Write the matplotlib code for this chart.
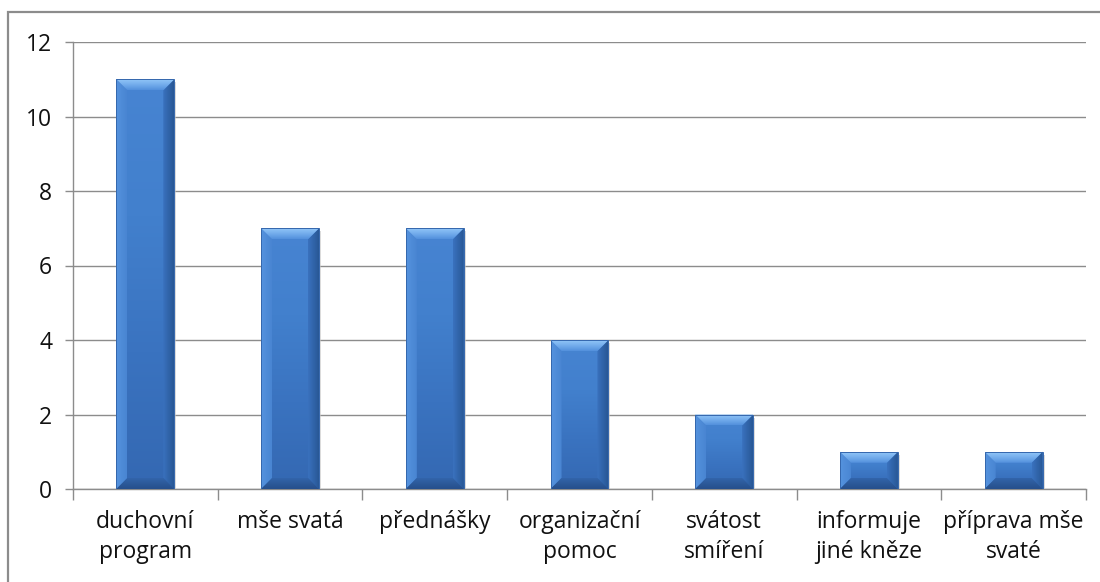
import matplotlib
matplotlib.use("Agg")
import matplotlib.pyplot as plt
import numpy as np
from matplotlib.patches import Polygon, Rectangle
from matplotlib.colors import LinearSegmentedColormap

categories = ["duchovní\nprogram", "mše svatá", "přednášky", "organizační\npomoc",
              "svátost\nsmíření", "informuje\njiné kněze", "příprava mše\nsvaté"]
values = [11, 7, 7, 4, 2, 1, 1]
yticks = [0, 2, 4, 6, 8, 10, 12]

plt.rcParams['font.family'] = ['Open Sans', 'DejaVu Sans']

W, H = 1100, 582
fig = plt.figure(figsize=(W / 100, H / 100), dpi=100)
fig.patch.set_facecolor('white')

# outer frame (only left and top visible in reference)
fig.add_artist(Rectangle((8 / W, -0.1), 1.2, 1 - 12 / H + 0.1, transform=fig.transFigure,
                         fill=False, edgecolor='#8c8c8c', linewidth=1.6))

ax = fig.add_axes([73 / W, 1 - 489 / H, (1086 - 73) / W, (489 - 42) / H])
x = np.arange(len(values))
ax.set_xlim(-0.5, len(values) - 0.5)
ax.set_ylim(0, 12)

for s in ['top', 'right']:
    ax.spines[s].set_visible(False)
for s in ['left', 'bottom']:
    ax.spines[s].set_color('#8c8c8c')
    ax.spines[s].set_linewidth(1.0)

ax.set_yticks(yticks)
ax.set_yticklabels([str(v) for v in yticks])
ax.yaxis.grid(True, color='#8c8c8c', linewidth=1.0)
ax.set_axisbelow(True)
ax.tick_params(axis='y', length=6, width=1, color='#8c8c8c', pad=9, labelsize=16.5, labelcolor='#111111')

ax.set_xticks(x)
ax.set_xticklabels(categories, linespacing=1.32)
ax.tick_params(axis='x', which='major', length=0, pad=15, labelsize=16.5, labelcolor='#111111')
ax.set_xticks(np.arange(-0.5, len(values) + 0.5, 1.0), minor=True)
ax.tick_params(axis='x', which='minor', length=8, width=1, color='#8c8c8c')

bars = ax.bar(x, values, width=0.4, color='#3f78c6', edgecolor='none', zorder=3)

fig.canvas.draw()
p0 = ax.transData.inverted().transform((0, 0))
p1 = ax.transData.inverted().transform((1, 1))
dx = p1[0] - p0[0]
dy = p1[1] - p0[1]
bev = 11

body_cmap = LinearSegmentedColormap.from_list('body', ['#3468b2', '#3a73c0', '#4280cd', '#4784d2'])
top_cmap = LinearSegmentedColormap.from_list('top', ['#5290dc', '#74adec', '#92c6f8'])
bot_cmap = LinearSegmentedColormap.from_list('bot', ['#264f8c', '#2c5a99', '#3264ab'])
left_cmap = LinearSegmentedColormap.from_list('left', ['#5593de', '#4985d2'])
right_cmap = LinearSegmentedColormap.from_list('right', ['#3a72bf', '#285795'])
vgrad = np.linspace(0, 1, 256).reshape(-1, 1)
hgrad = np.linspace(0, 1, 256).reshape(1, -1)


def grad_poly(pts, cmap, g, ext, z):
    poly = Polygon(pts, closed=True, facecolor='none', edgecolor='none')
    ax.add_patch(poly)
    im = ax.imshow(g, cmap=cmap, aspect='auto', origin='lower', extent=ext, zorder=z,
                   interpolation='bilinear')
    im.set_clip_path(poly)


for b in bars:
    bx, by = b.get_x(), b.get_y()
    bw, bh = b.get_width(), b.get_height()
    x0, x1, y0, y1 = bx, bx + bw, by, by + bh
    ex = bev * dx
    ey = min(bev * dy, bh / 2.5)
    b.set_facecolor('none')
    # body
    grad_poly([(x0, y0), (x1, y0), (x1, y1), (x0, y1)], body_cmap, vgrad, [x0, x1, y0, y1], 3.1)
    # left bevel
    grad_poly([(x0, y1), (x0 + ex, y1 - ey), (x0 + ex, y0 + ey), (x0, y0)],
              left_cmap, hgrad, [x0, x0 + ex, y0, y1], 3.2)
    # right bevel
    grad_poly([(x1, y1), (x1 - ex, y1 - ey), (x1 - ex, y0 + ey), (x1, y0)],
              right_cmap, hgrad, [x1 - ex, x1, y0, y1], 3.2)
    # top bevel
    grad_poly([(x0, y1), (x1, y1), (x1 - ex, y1 - ey), (x0 + ex, y1 - ey)],
              top_cmap, vgrad, [x0, x1, y1 - ey, y1], 3.3)
    # bottom bevel
    grad_poly([(x0, y0), (x1, y0), (x1 - ex, y0 + ey), (x0 + ex, y0 + ey)],
              bot_cmap, vgrad, [x0, x1, y0, y0 + ey], 3.3)
    # thin edge
    ax.add_patch(Rectangle((x0, y0), bw, bh, fill=False, edgecolor='#3567ad', linewidth=0.7, zorder=3.4))
    # soft shadow on the right
    ax.add_patch(Rectangle((x1, y0), 2 * dx, bh - 3 * dy, facecolor='#c4c4c4', edgecolor='none',
                           zorder=2.9, alpha=0.6))

fig.savefig('out.png', dpi=100, facecolor='white')
